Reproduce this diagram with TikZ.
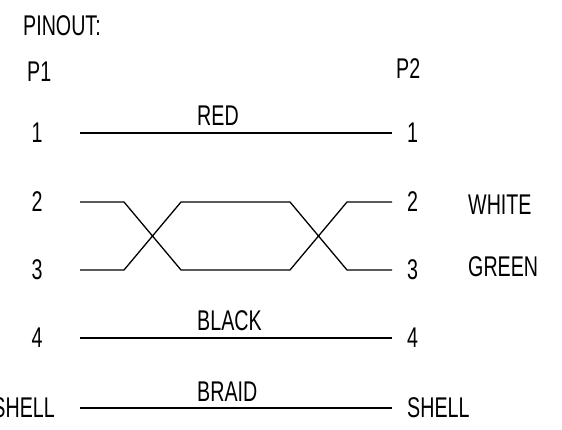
\documentclass[tikz,border=0pt]{standalone}
\usepackage{fontspec}
\setmainfont{Liberation Sans}[FakeStretch=0.69]
\tikzset{
  wire/.style={line width=1.3pt},
  pin/.style={inner sep=0pt},
}
\begin{document}
\begin{tikzpicture}[x=10pt,y=-10pt,font=\fontsize{28.5}{34}\selectfont]
\useasboundingbox (0,0) rectangle (56.2,43);
\node[pin,anchor=west] (title) at (2.3,2.6){PINOUT:};
\node[pin,anchor=west] (p1) at (2.7,7.2){P1};
\node[pin,anchor=west] (p2) at (39.6,6.9){P2};
\foreach\n/\y in {1/13.3,2/20.2,3/27.0,4/33.8}{
	\node[pin] (l\n) at (3.7,\y){\n};
	\node[pin,anchor=west] (r\n) at (40.7,\y){\n};
	\coordinate (a\n) at (8,\y);
	\coordinate (b\n) at (39.2,\y);
}
\node[pin,anchor=east] (l5) at (5.5,40.8){SHELL};
\node[pin,anchor=west] (r5) at (40.7,40.8){SHELL};
\coordinate (a5) at (8,40.8);
\coordinate (b5) at (39.2,40.8);
\draw[wire] (a1)--(b1);
\draw[wire] (a4)--(b4);
\draw[wire] (a5)--(b5);
\draw[wire] (a2)--++(4.4,0)--++(5.7,6.8)--++(10.9,0)--++(5.7,-6.8)--(b2);
\draw[wire] (a3)--++(4.4,0)--++(5.7,-6.8)--++(10.9,0)--++(5.7,6.8)--(b3);
\node[pin,anchor=west] (red) at (19.7,11.6){RED};
\node[pin,anchor=west] (black) at (19.7,32.1){BLACK};
\node[pin,anchor=west] (braid) at (19.7,39.2){BRAID};
\node[pin,anchor=west] (white) at (46.8,20.5){WHITE};
\node[pin,anchor=west] (green) at (46.8,26.7){GREEN};
\end{tikzpicture}
\end{document}
